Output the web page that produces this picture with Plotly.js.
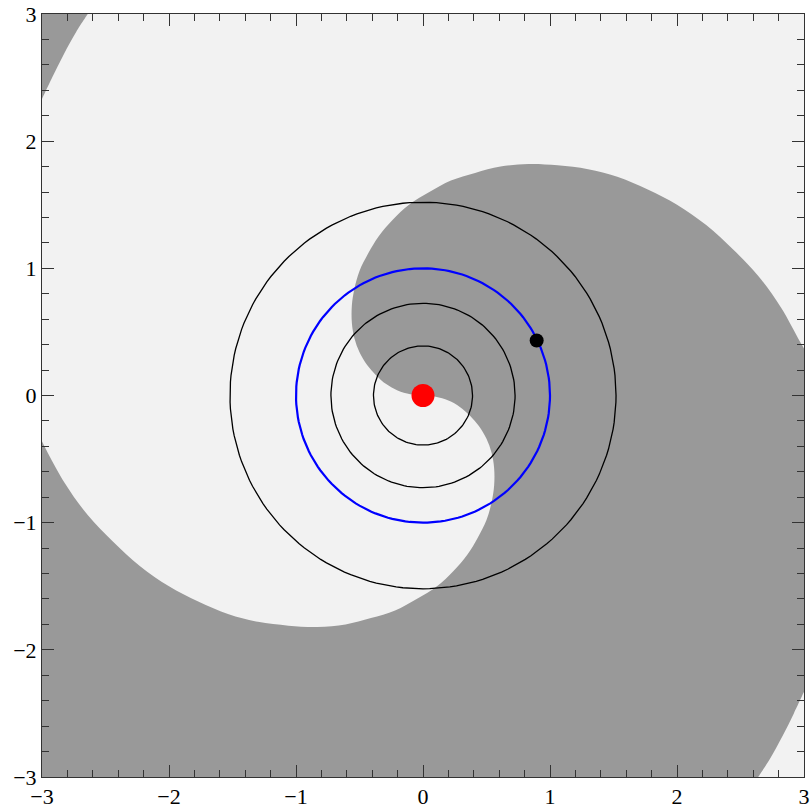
<!DOCTYPE html>
<html>
<head>
<meta charset="utf-8">
<script src="https://cdn.plot.ly/plotly-3.0.1.min.js"></script>
<style>
  html, body { margin: 0; padding: 0; background: #ffffff; }
  #chart { width: 811px; height: 811px; }
</style>
</head>
<body>
<div id="chart"></div>
<script>
// ---- data ----
const axisRange = [-3, 3];
const tickValues = [-3, -2, -1, 0, 1, 2, 3];
const tickLabels = ["\u22123", "\u22122", "\u22121", "0", "1", "2", "3"];

// boundary of the dark spiral arm, clockwise side (origin -> left edge)
const armA_x = [0, 0.10, 0.20, 0.29, 0.37, 0.44, 0.50, 0.54, 0.56, 0.56, 0.54, 0.50, 0.43, 0.35, 0.24, 0.11, -0.05, -0.22, -0.41, -0.61, -0.83, -1.06, -1.30, -1.53, -1.77, -2.00, -2.23, -2.44, -2.64, -2.82, -2.97, -3.0];
const armA_y = [0, -0.01, -0.04, -0.09, -0.16, -0.24, -0.34, -0.45, -0.57, -0.71, -0.84, -0.98, -1.12, -1.25, -1.38, -1.50, -1.60, -1.69, -1.75, -1.80, -1.82, -1.81, -1.78, -1.72, -1.62, -1.50, -1.34, -1.15, -0.94, -0.69, -0.42, -0.36];
// boundary of the dark spiral arm, counter-clockwise side (origin -> right edge)
const armB_x = [0, -0.10, -0.20, -0.29, -0.37, -0.44, -0.50, -0.54, -0.56, -0.56, -0.54, -0.50, -0.43, -0.35, -0.24, -0.11, 0.05, 0.22, 0.41, 0.61, 0.83, 1.06, 1.30, 1.53, 1.77, 2.00, 2.23, 2.44, 2.64, 2.82, 2.97, 3.0];
const armB_y = [0, 0.01, 0.04, 0.09, 0.16, 0.24, 0.34, 0.45, 0.57, 0.71, 0.84, 0.98, 1.12, 1.25, 1.38, 1.50, 1.60, 1.69, 1.75, 1.80, 1.82, 1.81, 1.78, 1.72, 1.62, 1.50, 1.34, 1.15, 0.94, 0.69, 0.42, 0.37];
// light corner boundary, bottom right (bottom edge -> right edge)
const cornerBR_x = [2.64, 2.73, 2.83, 2.92, 3.0];
const cornerBR_y = [-3.0, -2.86, -2.68, -2.50, -2.33];
// dark corner boundary, top left (top edge -> left edge)
const cornerTL_x = [-2.64, -2.73, -2.83, -2.92, -3.0];
const cornerTL_y = [3.0, 2.86, 2.68, 2.50, 2.33];

const circleRadii = [0.39, 0.725, 1.0, 1.52];
const circleColors = ["#000000", "#000000", "#0000ff", "#000000"];
const circleWidths = [1.3, 1.3, 2.2, 1.3];

const centerX = [0], centerY = [0];
const bodyX = [0.895], bodyY = [0.433];

const lightColor = "#f2f2f2";
const darkColor = "#999999";

// ---- build traces ----
const lo = axisRange[0], hi = axisRange[1];
function dupEnds(arr) { // repeat end points so the spline keeps sharp corners there
  return [arr[0]].concat(arr, [arr[arr.length - 1]]);
}
const revBx = armB_x.slice().reverse(), revBy = armB_y.slice().reverse();
// start at bottom-left corner, follow bottom edge, BR corner curve, right edge,
// arm B back to the origin, then arm A out to the left edge
const mainX = [].concat([lo, lo], dupEnds(cornerBR_x), [revBx[0]], revBx, armA_x.slice(1), [armA_x[armA_x.length - 1]]);
const mainY = [].concat([lo, lo], dupEnds(cornerBR_y), [revBy[0]], revBy, armA_y.slice(1), [armA_y[armA_y.length - 1]]);
const tlX = [].concat([lo, lo], dupEnds(cornerTL_x.slice().reverse()), [lo]);
const tlY = [].concat([hi, hi], dupEnds(cornerTL_y.slice().reverse()), [hi]);

const traces = [
  { x: mainX, y: mainY, type: "scatter", mode: "lines", fill: "toself",
    fillcolor: darkColor, line: { width: 0, color: darkColor, shape: "spline", smoothing: 1 }, hoverinfo: "skip" },
  { x: tlX, y: tlY, type: "scatter", mode: "lines", fill: "toself",
    fillcolor: darkColor, line: { width: 0, color: darkColor, shape: "spline", smoothing: 1 }, hoverinfo: "skip" }
];

circleRadii.forEach(function (r, i) {
  const cx = [], cy = [];
  for (let k = 0; k <= 360; k += 2) {
    const a = k * Math.PI / 180;
    cx.push(r * Math.cos(a));
    cy.push(r * Math.sin(a));
  }
  traces.push({ x: cx, y: cy, type: "scatter", mode: "lines",
    line: { color: circleColors[i], width: circleWidths[i] }, hoverinfo: "skip" });
});

traces.push({ x: centerX, y: centerY, type: "scatter", mode: "markers",
  marker: { color: "#ff0000", size: 23 }, hoverinfo: "skip" });
traces.push({ x: bodyX, y: bodyY, type: "scatter", mode: "markers",
  marker: { color: "#000000", size: 14 }, hoverinfo: "skip" });

function axis() {
  return {
    range: axisRange, autorange: false,
    tickmode: "array", tickvals: tickValues, ticktext: tickLabels,
    tickfont: { family: "Liberation Serif", size: 22, color: "#000000" },
    ticks: "inside", ticklen: 12, tickwidth: 1, tickcolor: "#333333",
    minor: { ticks: "inside", ticklen: 7, tickwidth: 1, tickcolor: "#333333", dtick: 0.2, tick0: 0, showgrid: false },
    showline: true, linecolor: "#333333", linewidth: 1, mirror: "ticks",
    showgrid: false, zeroline: false, fixedrange: true
  };
}

const layout = {
  width: 811, height: 811,
  margin: { l: 42, r: 7, t: 14, b: 34, pad: 0 },
  paper_bgcolor: "#ffffff",
  plot_bgcolor: lightColor,
  showlegend: false,
  font: { family: "Liberation Serif", size: 22, color: "#000000" },
  xaxis: axis(),
  yaxis: axis()
};

Plotly.newPlot("chart", traces, layout, { staticPlot: true, displayModeBar: false });
</script>
</body>
</html>
